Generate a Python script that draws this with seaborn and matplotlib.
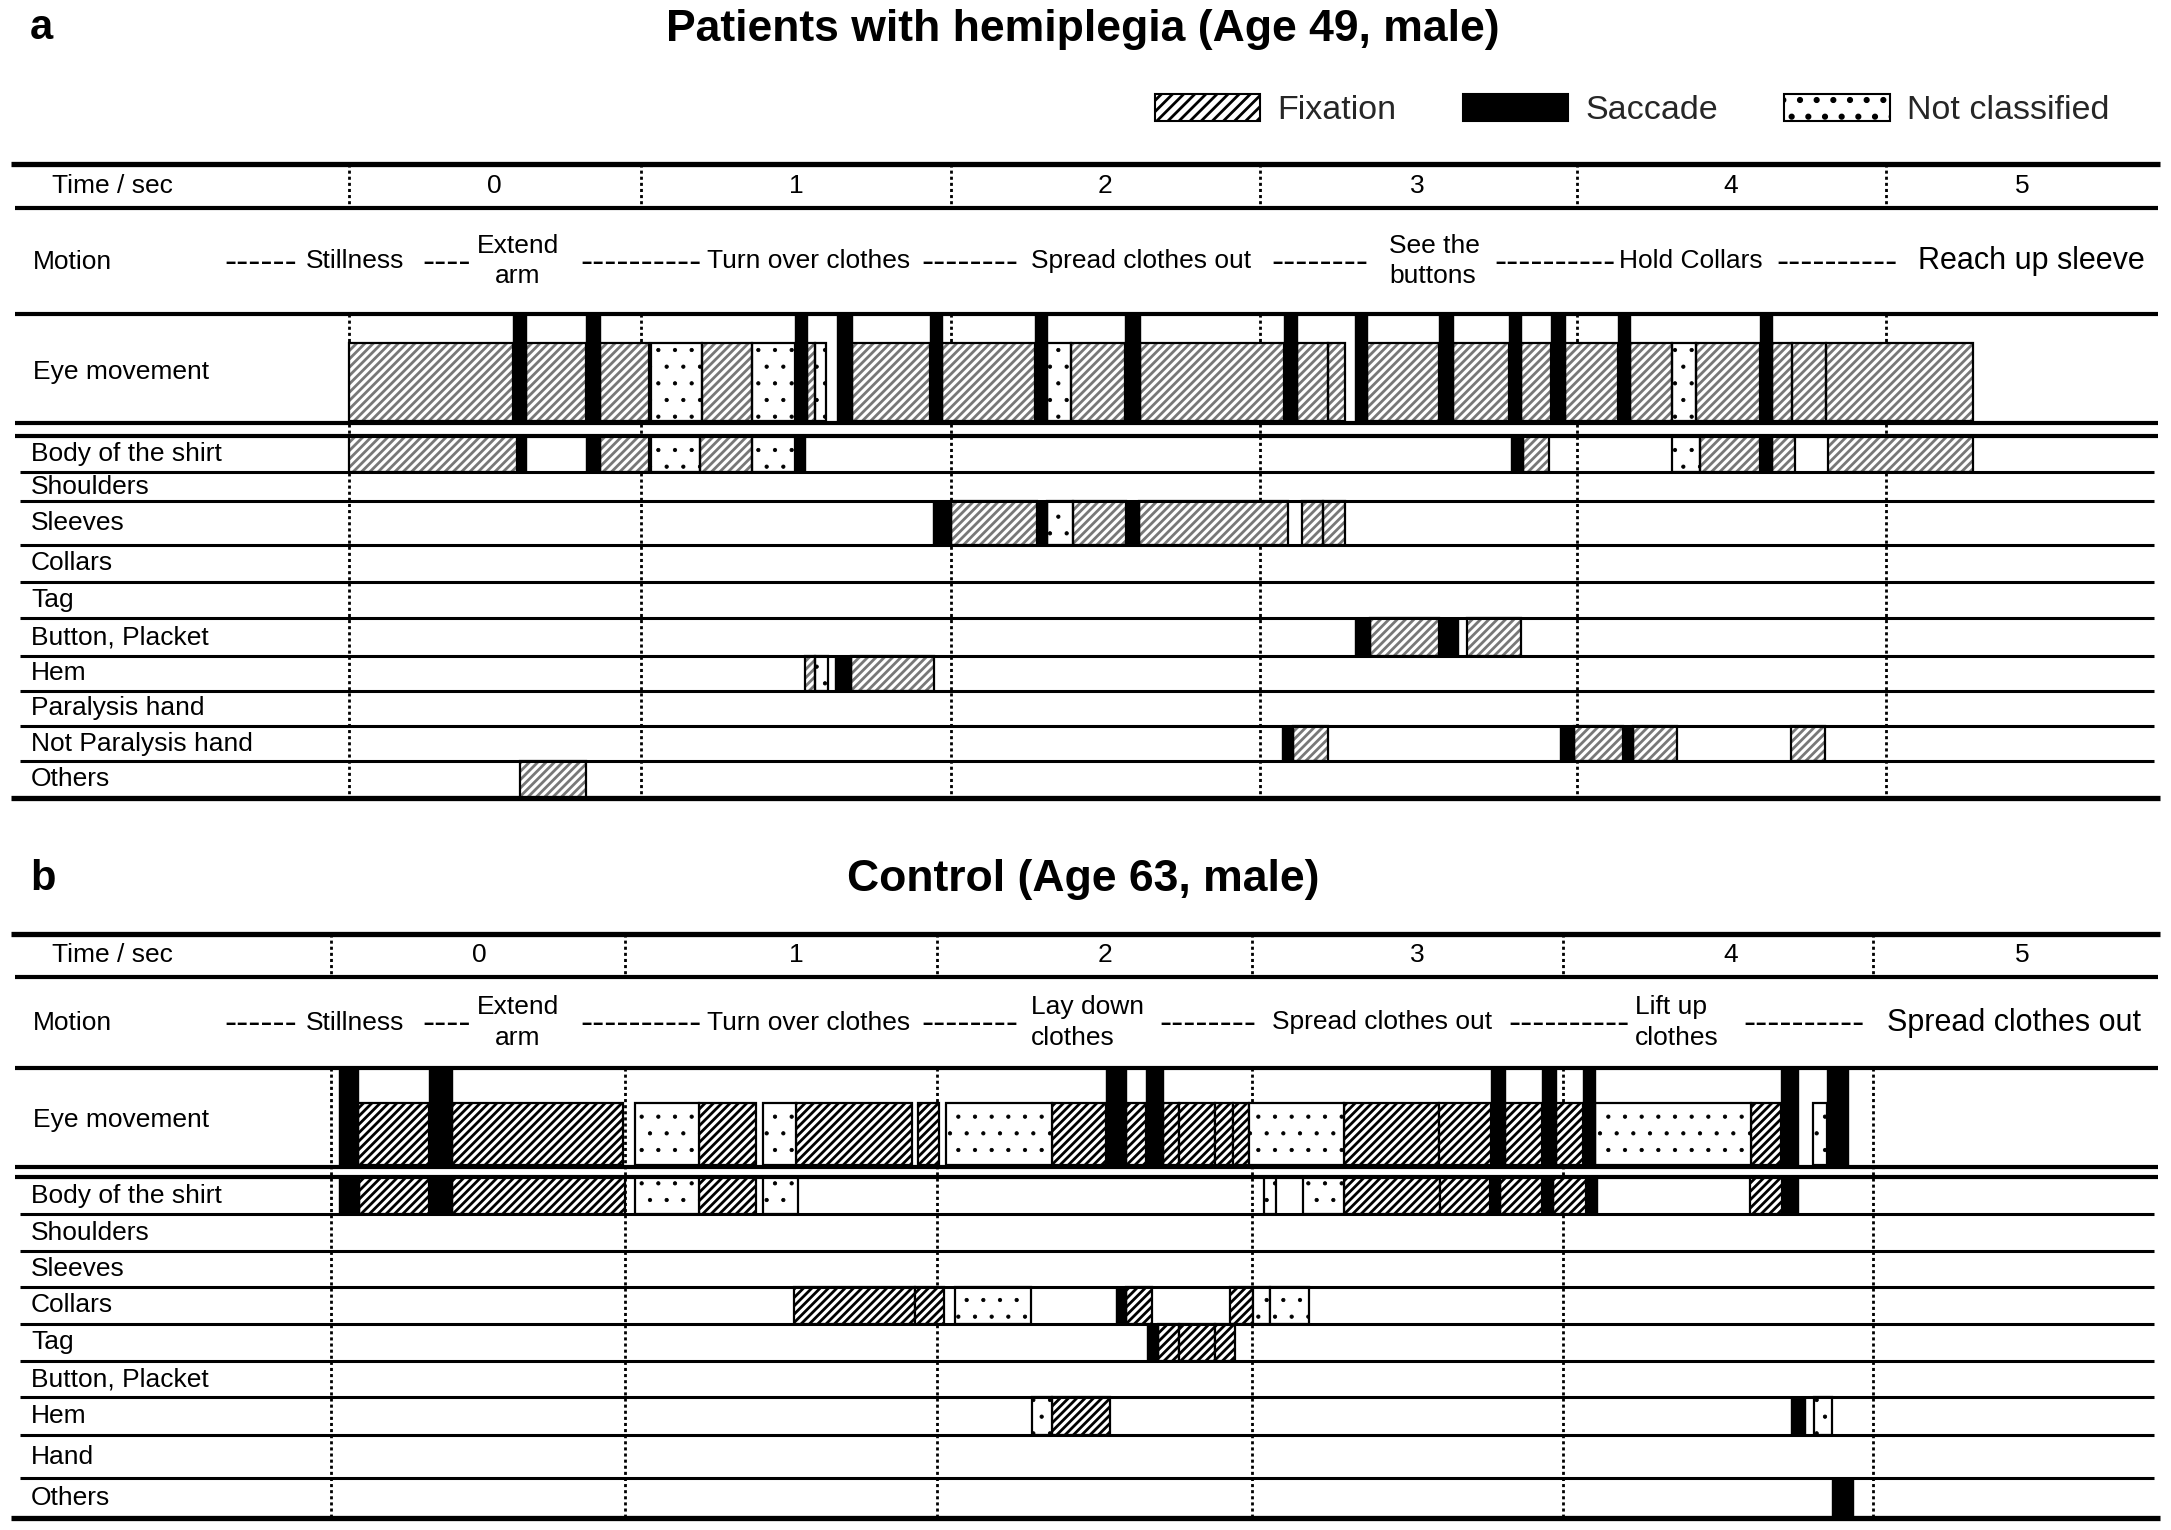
import numpy as np
import matplotlib
matplotlib.use("Agg")
import matplotlib.pyplot as plt
import seaborn as sns
from matplotlib.patches import Patch

sns.set_theme(style="white")
plt.rcParams['font.family'] = ['Liberation Sans', 'DejaVu Sans']
plt.rcParams['hatch.linewidth'] = 2.0

# ------------------------------------------------------------------ data
# Each segment: (start second, end second, kind)  F=fixation, S=saccade, N=not classified
TITLE_A = "Patients with hemiplegia (Age 49, male)"
TITLE_B = "Control (Age 63, male)"
SECONDS = [0, 1, 2, 3, 4, 5]
LEGEND_LABELS = ["Fixation", "Saccade", "Not classified"]

ROWS_A = ["Body of the shirt", "Shoulders", "Sleeves", "Collars", "Tag",
          "Button, Placket", "Hem", "Paralysis hand", "Not Paralysis hand", "Others"]
ROWS_B = ["Body of the shirt", "Shoulders", "Sleeves", "Collars", "Tag",
          "Button, Placket", "Hem", "Hand", "Others"]

MOTIONS_A = ["Stillness", "Extend\narm", "Turn over clothes", "Spread clothes out",
             "See the\nbuttons", "Hold Collars", "Reach up sleeve"]
MOTIONS_B = ["Stillness", "Extend\narm", "Turn over clothes", "Lay down\nclothes",
             "Spread clothes out", "Lift up\nclothes", "Spread clothes out"]
DASHES_A = [6, 4, 10, 8, 8, 10, 10]
DASHES_B = [6, 4, 10, 8, 8, 10, 10]

A_EYE = [(0.000, 0.564, 'F'), (0.564, 0.607, 'S'), (0.607, 0.812, 'F'), (0.812, 0.860, 'S'),
         (0.860, 1.027, 'F'), (1.034, 1.197, 'N'), (1.197, 1.360, 'F'), (1.360, 1.498, 'N'),
         (1.498, 1.536, 'S'), (1.536, 1.563, 'F'), (1.563, 1.598, 'N'), (1.633, 1.682, 'S'),
         (1.682, 1.932, 'F'), (1.932, 1.972, 'S'), (1.972, 2.272, 'F'), (2.272, 2.313, 'S'),
         (2.313, 2.390, 'N'), (2.390, 2.564, 'F'), (2.564, 2.614, 'S'), (2.614, 3.078, 'F'),
         (3.078, 3.117, 'S'), (3.117, 3.217, 'F'), (3.217, 3.270, 'F'), (3.299, 3.338, 'S'),
         (3.338, 3.564, 'F'), (3.564, 3.608, 'S'), (3.608, 3.785, 'F'), (3.785, 3.825, 'S'),
         (3.825, 3.918, 'F'), (3.918, 3.962, 'S'), (3.962, 4.132, 'F'), (4.132, 4.173, 'S'),
         (4.173, 4.307, 'F'), (4.307, 4.386, 'N'), (4.386, 4.593, 'F'), (4.593, 4.632, 'S'),
         (4.632, 4.695, 'F'), (4.695, 4.807, 'F'), (4.807, 5.280, 'F')]
A_BODY = [(0.000, 0.576, 'F'), (0.576, 0.607, 'S'), (0.812, 0.860, 'S'), (0.860, 1.027, 'F'),
          (1.034, 1.192, 'N'), (1.192, 1.360, 'F'), (1.360, 1.498, 'N'), (1.498, 1.531, 'S'),
          (3.791, 3.830, 'S'), (3.830, 3.912, 'F'), (4.307, 4.398, 'N'), (4.398, 4.592, 'F'),
          (4.592, 4.631, 'S'), (4.631, 4.706, 'F'), (4.812, 5.280, 'F')]
A_SHOULDERS = []
A_SLEEVES = [(1.943, 2.000, 'S'), (2.000, 2.279, 'F'), (2.279, 2.313, 'S'), (2.313, 2.396, 'N'),
             (2.396, 2.568, 'F'), (2.568, 2.610, 'S'), (2.610, 3.089, 'F'), (3.133, 3.199, 'F'),
             (3.199, 3.270, 'F')]
A_COLLARS = []
A_TAG = []
A_BUTTON = [(3.299, 3.349, 'S'), (3.349, 3.564, 'F'), (3.564, 3.624, 'S'), (3.652, 3.823, 'F')]
A_HEM = [(1.531, 1.563, 'F'), (1.563, 1.604, 'N'), (1.627, 1.679, 'S'), (1.679, 1.948, 'F')]
A_PARALYSIS = []
A_NOT_PARALYSIS = [(3.071, 3.106, 'S'), (3.106, 3.217, 'F'), (3.945, 3.991, 'S'),
                   (3.991, 4.148, 'F'), (4.148, 4.181, 'S'), (4.181, 4.325, 'F'),
                   (4.693, 4.803, 'F')]
A_OTHERS = [(0.588, 0.812, 'F')]

B_EYE = [(0.027, 0.091, 'S'), (0.091, 0.334, 'F'), (0.334, 0.413, 'S'), (0.413, 0.993, 'F'),
         (1.032, 1.238, 'N'), (1.238, 1.421, 'F'), (1.443, 1.549, 'N'), (1.549, 1.920, 'F'),
         (1.938, 2.005, 'F'), (2.027, 2.366, 'N'), (2.366, 2.538, 'F'), (2.538, 2.601, 'S'),
         (2.601, 2.663, 'F'), (2.663, 2.717, 'S'), (2.717, 2.768, 'F'), (2.768, 2.884, 'F'),
         (2.884, 2.940, 'F'), (2.940, 2.990, 'F'), (2.990, 3.295, 'N'), (3.295, 3.600, 'F'),
         (3.600, 3.769, 'F'), (3.769, 3.815, 'S'), (3.815, 3.934, 'F'), (3.934, 3.979, 'S'),
         (3.979, 4.063, 'F'), (4.063, 4.104, 'S'), (4.104, 4.606, 'N'), (4.606, 4.702, 'F'),
         (4.702, 4.759, 'S'), (4.806, 4.852, 'N'), (4.852, 4.919, 'S')]
B_BODY = [(0.027, 0.096, 'S'), (0.096, 0.334, 'F'), (0.334, 0.413, 'S'), (0.413, 1.000, 'F'),
          (1.032, 1.238, 'N'), (1.238, 1.421, 'F'), (1.443, 1.553, 'N'), (3.040, 3.076, 'N'),
          (3.164, 3.295, 'N'), (3.295, 3.604, 'F'), (3.604, 3.765, 'F'), (3.765, 3.797, 'S'),
          (3.797, 3.932, 'F'), (3.932, 3.968, 'S'), (3.968, 4.074, 'F'), (4.074, 4.109, 'S'),
          (4.603, 4.705, 'F'), (4.705, 4.759, 'S')]
B_SHOULDERS = []
B_SLEEVES = []
B_COLLARS = [(1.542, 1.931, 'F'), (1.931, 2.021, 'F'), (2.058, 2.299, 'N'), (2.567, 2.601, 'S'),
             (2.601, 2.683, 'F'), (2.930, 3.002, 'F'), (3.002, 3.058, 'N'), (3.058, 3.182, 'N')]
B_TAG = [(2.667, 2.701, 'S'), (2.701, 2.768, 'F'), (2.768, 2.884, 'F'), (2.884, 2.946, 'F')]
B_BUTTON = []
B_HEM = [(2.300, 2.366, 'N'), (2.366, 2.549, 'F'), (4.736, 4.781, 'S'), (4.811, 4.867, 'N')]
B_HAND = []
B_OTHERS = [(4.867, 4.935, 'S')]

SEGS_A = [A_BODY, A_SHOULDERS, A_SLEEVES, A_COLLARS, A_TAG, A_BUTTON, A_HEM,
          A_PARALYSIS, A_NOT_PARALYSIS, A_OTHERS]
SEGS_B = [B_BODY, B_SHOULDERS, B_SLEEVES, B_COLLARS, B_TAG, B_BUTTON, B_HEM,
          B_HAND, B_OTHERS]

# ------------------------------------------------------------------ layout (pixels)
W, H = 2171, 1530
X0, X1 = 11, 2160
LAYOUT_A = dict(top=164, time_bot=208, motion_bot=314, eye_bot=423, fix_top=343, bar_bot=421,
                rows=[436, 472, 501, 545, 582, 618, 656, 691, 726, 761, 798],
                edges=[349, 640.5, 950.6, 1259.6, 1577, 1886],
                time_x=[494, 796, 1105, 1417, 1731, 2022],
                title_y=29, legend_y=110,
                dash_x=[224, 422, 580, 921, 1271, 1494, 1776],
                label_x=[306, 518, 707, 1031, 1389, 1619, 1918],
                label_ha=['left', 'center', 'left', 'left', 'left', 'left', 'left'])
LAYOUT_B = dict(top=934, time_bot=977, motion_bot=1068, eye_bot=1167, fix_top=1103, bar_bot=1165,
                rows=[1177, 1214, 1251, 1287, 1324, 1361, 1397, 1435, 1478, 1518],
                edges=[331, 625, 937, 1252, 1563, 1873],
                time_x=[479, 796, 1105, 1417, 1731, 2022],
                title_y=880,
                dash_x=[224, 422, 580, 921, 1159, 1508, 1743],
                label_x=[306, 518, 707, 1031, 1272, 1635, 1887],
                label_ha=['left', 'center', 'left', 'left', 'left', 'left', 'left'])

FS = 19
FS_BIG = 22
FS_DASH = 26
EDGE_LW = 1.6
HATCH = '////'
HATCH_LW = 2.0
DOT_LW = 0.6

fig = plt.figure(figsize=(W / 100, H / 100), dpi=100)
fig.patch.set_facecolor('white')


def ftext(x, y, s, **kw):
    kw.setdefault('fontsize', FS)
    kw.setdefault('va', 'center')
    kw.setdefault('color', 'black')
    return fig.text(x / W, 1 - y / H, s, **kw)


def set_hlw(container, lw):
    for p in container:
        if hasattr(p, 'set_hatch_linewidth'):
            p.set_hatch_linewidth(lw)


def make_axes(L):
    top, bottom = L['top'], L['rows'][-1]
    ax = fig.add_axes([X0 / W, 1 - bottom / H, (X1 - X0) / W, (bottom - top) / H])
    e = np.array(L['edges'], dtype=float)
    tk = np.array([-4, 0, 1, 2, 3, 4, 5, 9], dtype=float)
    pk = np.concatenate([[e[0] - 4 * (e[1] - e[0])], e, [e[-1] + 4 * (e[-1] - e[-2])]])

    def fwd(t):
        return np.interp(t, tk, pk)

    def inv(p):
        return np.interp(p, pk, tk)

    ax.set_xscale('function', functions=(fwd, inv))
    ax.axis('off')
    return ax, float(inv(X0)), float(inv(X1))


def draw_segments(ax, segs, y_top, y_bot, fix_top, grey):
    kinds = {}
    for s, e, k in segs:
        kinds.setdefault(k, []).append((s, e))
    if 'F' in kinds:
        st = np.array([a for a, b in kinds['F']])
        wd = np.array([b - a for a, b in kinds['F']])
        if grey:
            c = ax.bar(st, fix_top - y_bot, width=wd, bottom=y_bot, align='edge',
                       color='white', edgecolor='#787878', linewidth=0, hatch=HATCH, zorder=2)
            set_hlw(c, HATCH_LW)
            ax.bar(st, fix_top - y_bot, width=wd, bottom=y_bot, align='edge',
                   fill=False, edgecolor='black', linewidth=EDGE_LW, zorder=2.1)
        else:
            c = ax.bar(st, fix_top - y_bot, width=wd, bottom=y_bot, align='edge',
                       color='white', edgecolor='black', linewidth=EDGE_LW, hatch=HATCH, zorder=2)
            set_hlw(c, HATCH_LW)
    if 'N' in kinds:
        st = np.array([a for a, b in kinds['N']])
        wd = np.array([b - a for a, b in kinds['N']])
        c = ax.bar(st, fix_top - y_bot, width=wd, bottom=y_bot, align='edge',
                   color='white', edgecolor='black', linewidth=EDGE_LW, hatch='.', zorder=2)
        set_hlw(c, DOT_LW)
    if 'S' in kinds:
        st = np.array([a for a, b in kinds['S']])
        wd = np.array([b - a for a, b in kinds['S']])
        ax.bar(st, y_top - y_bot, width=wd, bottom=y_bot, align='edge',
               color='black', edgecolor='black', linewidth=1.0, zorder=2.2)


def draw_panel(L, eye_segs, row_names, row_segs, motions, dashes, title, letter, grey):
    ax, xmin, xmax = make_axes(L)
    top, bottom = L['top'], L['rows'][-1]
    yt = ax.get_yaxis_transform()

    ax.vlines(SECONDS, L['top'], L['time_bot'], colors='black', linewidth=2.0,
              linestyles=(0, (1.1, 1.1)), zorder=1)
    ax.vlines(SECONDS, L['motion_bot'], bottom, colors='black', linewidth=2.0,
              linestyles=(0, (1.1, 1.1)), zorder=1)

    draw_segments(ax, eye_segs, L['motion_bot'], L['bar_bot'], L['fix_top'], grey)
    rows = L['rows']
    for i, segs in enumerate(row_segs):
        draw_segments(ax, segs, rows[i], rows[i + 1], rows[i], grey)

    thick = [L['top'], bottom]
    medium = [L['time_bot'], L['motion_bot'], L['eye_bot'], rows[0]]
    ax.hlines(thick, 0, 1, transform=yt, colors='black', linewidth=3.8, zorder=3, clip_on=False)
    ax.hlines(medium, 0.002, 0.999, transform=yt, colors='black', linewidth=3.0, zorder=3,
              clip_on=False)
    ax.hlines(rows[1:-1], 0.004, 0.997, transform=yt, colors='black', linewidth=2.2, zorder=3,
              clip_on=False)

    ax.set_xlim(xmin, xmax)
    ax.set_ylim(bottom, top)

    ty = (L['top'] + L['time_bot']) / 2
    for t, x in zip(SECONDS, L['time_x']):
        ftext(x, ty, str(t), ha='center')

    ftext(52, ty, "Time / sec")
    my = (L['time_bot'] + L['motion_bot']) / 2
    ftext(33, my + 1, "Motion")
    ftext(33, (L['motion_bot'] + L['eye_bot']) / 2 + 3, "Eye movement")
    for i, name in enumerate(row_names):
        ftext(31, (rows[i] + rows[i + 1]) / 2, name)

    for i, (m, n) in enumerate(zip(motions, dashes)):
        fs = FS_BIG if i == len(motions) - 1 else FS
        ftext(L['dash_x'][i], my + 1, "-" * n, fontsize=FS_DASH, ha='left')
        ftext(L['label_x'][i], my, m, fontsize=fs, ha=L['label_ha'][i],
              multialignment=L['label_ha'][i], linespacing=1.34)

    ftext(1083, L['title_y'], title, fontsize=32, fontweight='bold', ha='center')
    ftext(30, L['title_y'] - 1, letter, fontsize=30, fontweight='bold', ha='left')
    return ax


draw_panel(LAYOUT_A, A_EYE, ROWS_A, SEGS_A, MOTIONS_A, DASHES_A, TITLE_A, "a", True)
draw_panel(LAYOUT_B, B_EYE, ROWS_B, SEGS_B, MOTIONS_B, DASHES_B, TITLE_B, "b", False)

h_fix = Patch(facecolor='white', edgecolor='black', hatch='///', linewidth=1.5)
h_sac = Patch(facecolor='black', edgecolor='black', linewidth=1.5)
h_nc = Patch(facecolor='white', edgecolor='black', hatch='.', linewidth=1.5)
set_hlw([h_nc], DOT_LW)
set_hlw([h_fix], HATCH_LW)
fig.legend([h_fix, h_sac, h_nc], LEGEND_LABELS, loc='center',
           bbox_to_anchor=(1632 / W, 1 - LAYOUT_A['legend_y'] / H), ncol=3, frameon=False,
           fontsize=24.5, handlelength=3.1, handleheight=0.85, handletextpad=0.5,
           columnspacing=1.95, borderpad=0, borderaxespad=0)

fig.savefig("out.png", dpi=100, facecolor='white')
